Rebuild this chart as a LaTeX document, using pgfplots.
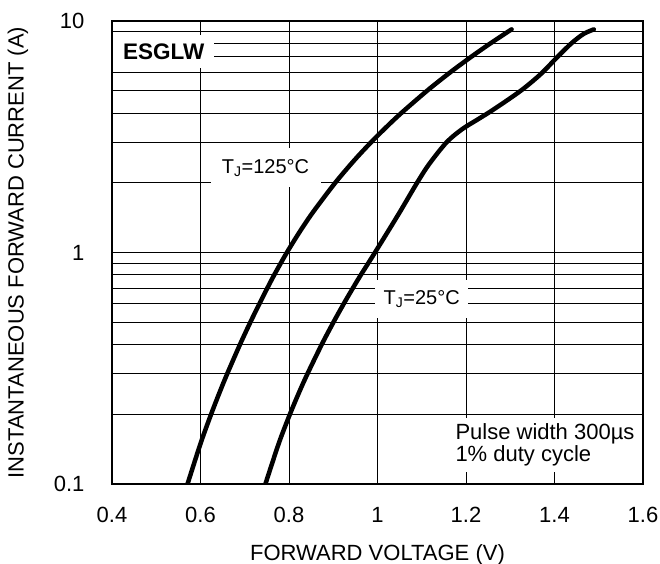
\documentclass[border=0pt]{standalone}
\usepackage{fontspec}
\setmainfont{Liberation Sans}
\usepackage{pgfplots}
\pgfplotsset{compat=1.18}
\begin{document}
\fontsize{22bp}{26bp}\selectfont
\begin{tikzpicture}[x=1bp,y=1bp]
\path[use as bounding box] (-112,-80) rectangle (548,484);
\begin{axis}[
  at={(0,0)}, anchor=south west, scale only axis,
  width=531bp, height=463bp,
  xmin=0.4, xmax=1.6, ymin=0.1, ymax=10, ymode=log,
  xtick={0.4,0.6,0.8,1,1.2,1.4,1.6},
  xticklabels={0.4,0.6,0.8,1,1.2,1.4,1.6},
  ytick={0.1,1,10}, yticklabels={0.1,1,10},
  xmajorgrids, ymajorgrids, yminorgrids,
  major grid style={black, line width=0.9bp},
  minor grid style={black, line width=0.9bp},
  major tick length=0pt, minor tick length=0pt,
  axis line style={line width=1.8bp},
  xticklabel style={anchor=center, yshift=-31bp, font=\fontsize{22bp}{26bp}\selectfont},
  yticklabel style={anchor=east, xshift=-20bp, font=\fontsize{22bp}{26bp}\selectfont},
  xlabel={FORWARD VOLTAGE (V)},
  ylabel={INSTANTANEOUS FORWARD CURRENT (A)},
  xlabel style={at={(axis description cs:0.5,-0.1533)}, anchor=center},
  ylabel style={at={(axis description cs:-0.177,0.5)}, anchor=center},
]
\node[fill=white, inner sep=0pt, minimum width=101bp, minimum height=33bp, font=\fontsize{22.5bp}{26bp}\selectfont\bfseries] at (axis cs:0.517,7.35) {ESGLW};
\node[fill=white, inner sep=0pt, minimum width=110bp, minimum height=39bp, font=\fontsize{20bp}{24bp}\selectfont] at (axis cs:0.747,2.32) {T\textsubscript{J}=125°C};
\node[fill=white, inner sep=0pt, minimum width=93bp, minimum height=38bp, font=\fontsize{20bp}{24bp}\selectfont] at (axis cs:1.100,0.63) {T\textsubscript{J}=25°C};
\node[fill=white, anchor=west, align=left, inner xsep=7bp, inner ysep=6bp, font=\fontsize{22bp}{19bp}\selectfont] at (axis cs:1.160,0.1474) {Pulse width 300µs\\1\% duty cycle};
% T_J = 125 C
\addplot[black, line width=4.5bp, line cap=round, smooth] coordinates {
 (0.5707,0.1) (0.6003,0.15) (0.6239,0.2) (0.6436,0.25) (0.6606,0.3)
 (0.6891,0.4) (0.7127,0.5) (0.7330,0.6) (0.7507,0.7) (0.7666,0.8)
 (0.7952,1.0) (0.8267,1.25) (0.8549,1.5) (0.9044,2) (0.9474,2.5)
 (0.9860,3) (1.0212,3.5) (1.0536,4) (1.1122,5) (1.1643,6)
 (1.2116,7) (1.2550,8) (1.2953,9) (1.3030,9.2)
};
% T_J = 25 C
\addplot[black, line width=4.5bp, line cap=round, smooth] coordinates {
 (0.7467,0.1) (0.7770,0.15) (0.8020,0.2) (0.8233,0.25) (0.8420,0.3)
 (0.8738,0.4) (0.9005,0.5) (0.9236,0.6) (0.9440,0.7) (0.9623,0.8)
 (0.9943,1.0) (1.0478,1.467) (1.0894,2.0) (1.1169,2.412) (1.1567,3.001)
 (1.1919,3.416) (1.2280,3.772) (1.2641,4.169) (1.3239,5.0) (1.3691,5.903)
 (1.4065,6.99) (1.4379,8.0) (1.4655,8.787) (1.4889,9.2)
};
\end{axis}
\end{tikzpicture}
\end{document}
